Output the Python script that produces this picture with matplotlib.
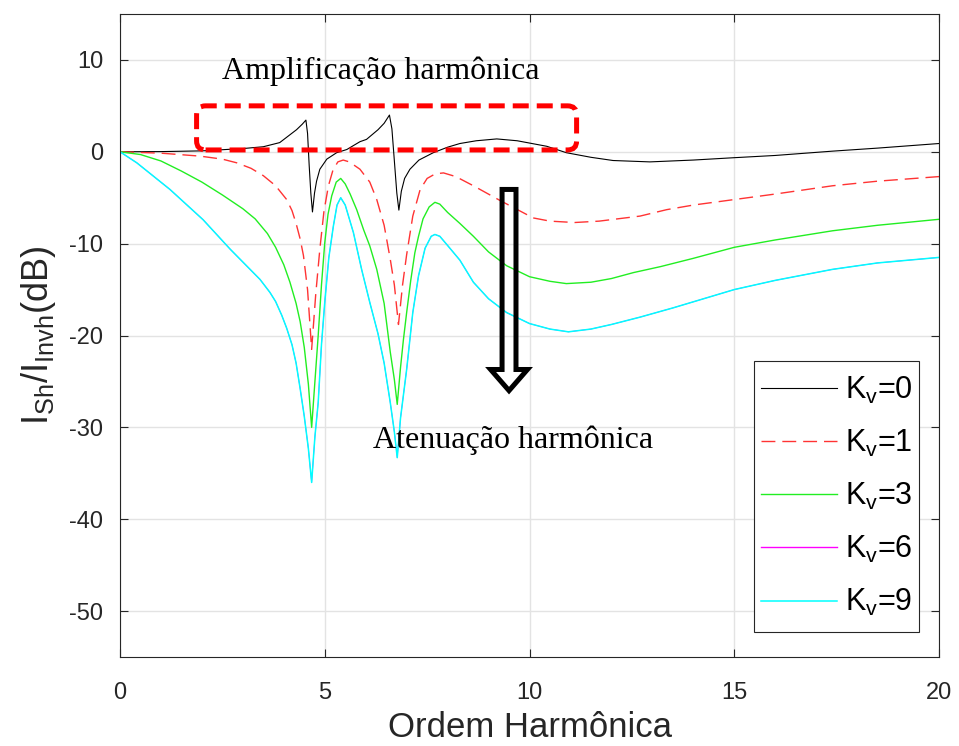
import numpy as np
import matplotlib
matplotlib.use('Agg')
import matplotlib.pyplot as plt
from matplotlib.patches import FancyBboxPatch, FancyArrow, Rectangle
from matplotlib.lines import Line2D

plt.rcParams['font.family'] = ['Liberation Sans', 'DejaVu Sans']
plt.rcParams['mathtext.fontset'] = 'custom'
plt.rcParams['mathtext.rm'] = 'Liberation Sans'
plt.rcParams['mathtext.it'] = 'Liberation Sans:italic'
plt.rcParams['axes.unicode_minus'] = False

# values (harmonic order vs. dB)
x_kv0 = [0, 1, 2, 3, 3.5, 3.9, 4.31, 4.45, 4.54, 4.58, 4.62, 4.66, 4.70, 4.75, 4.80, 4.88,
         5.05, 5.29, 5.54, 5.86, 6.02, 6.3, 6.45, 6.58, 6.64, 6.70, 6.76, 6.81, 6.87, 6.95,
         7.08, 7.3, 7.65, 8.0, 8.3, 8.7, 9.2, 9.7, 10.42, 10.9, 11.5, 12.04, 12.94, 14.0,
         14.97, 16.0, 17.4, 18.5, 20]
y_kv0 = [0, 0.02, 0.1, 0.35, 0.55, 1.0, 2.4, 3.0, 3.45, 2.0, -1.5, -4.5, -6.55, -4.5, -3.2, -1.9,
         -0.8, -0.1, 0.25, 1.1, 1.35, 2.4, 3.1, 4.0, 2.5, -1.0, -4.5, -6.35, -4.3, -2.9,
         -1.9, -0.9, -0.1, 0.5, 0.9, 1.2, 1.4, 1.2, 0.6, -0.1, -0.6, -0.95, -1.1, -0.9,
         -0.65, -0.4, 0.07, 0.4, 0.9]

x_kv1 = [0, 1, 1.95, 2.5, 2.85, 3.2, 3.5, 3.8, 4.07, 4.2, 4.3, 4.4, 4.48, 4.58, 4.68, 4.78, 4.88,
         4.98, 5.09, 5.2, 5.32, 5.45, 5.6, 5.86, 6.1, 6.27, 6.45, 6.6, 6.7, 6.8, 6.9, 7.0,
         7.15, 7.33, 7.5, 7.7, 7.9, 8.2, 8.63, 9.28, 10.09, 10.5, 11.1, 11.7, 12.7, 13.35,
         14.0, 15.0, 16.0, 17.4, 18.5, 20]
y_kv1 = [0, -0.15, -0.47, -0.8, -1.2, -1.8, -2.6, -3.7, -5.2, -6.4, -7.8, -9.5, -11.3, -15.0, -21.5, -15.5, -10.6,
         -6.5, -3.7, -2.0, -1.1, -0.9, -1.1, -1.9, -3.3, -5.2, -8.0, -11.7, -14.5, -18.8, -14.5, -11.2,
         -7.0, -4.1, -2.9, -2.4, -2.3, -2.7, -3.7, -5.3, -7.2, -7.55, -7.7, -7.55, -7.0, -6.3,
         -5.8, -5.2, -4.6, -3.7, -3.2, -2.7]

x_kv3 = [0, 0.5, 1.0, 1.5, 2.0, 2.5, 3.0, 3.3, 3.6, 3.8, 4.0, 4.15, 4.3, 4.4, 4.5, 4.6, 4.68, 4.76, 4.84,
         4.92, 5.0, 5.08, 5.17, 5.28, 5.39, 5.5, 5.62, 5.78, 5.95, 6.1, 6.27, 6.45, 6.6, 6.7,
         6.77, 6.85, 6.92, 7.0, 7.1, 7.2, 7.29, 7.4, 7.55, 7.69, 7.81, 8.0, 8.3, 8.63, 9.0,
         9.44, 10.0, 10.5, 10.9, 11.5, 12.0, 12.54, 13.2, 14.0, 15.0, 16.0, 17.4, 18.5, 20]
y_kv3 = [0, -0.3, -1.0, -2.1, -3.3, -4.7, -6.2, -7.3, -8.9, -10.4, -12.3, -14.2, -16.5, -18.5, -21.3, -25.3, -30.0, -25.0, -20.0,
         -14.5, -9.9, -6.8, -4.8, -3.3, -2.9, -3.5, -4.6, -6.3, -8.5, -10.25, -12.8, -16.5, -21.8, -24.8,
         -27.5, -23.5, -20.5, -17.5, -14.0, -11.0, -9.2, -7.3, -6.0, -5.5, -5.7, -6.6, -7.8, -9.2, -10.9,
         -12.4, -13.6, -14.1, -14.35, -14.2, -13.8, -13.15, -12.5, -11.6, -10.4, -9.6, -8.6, -8.0, -7.35]

x_kv9 = [0, 0.41, 1.22, 2.03, 2.69, 3.42, 3.66, 3.8, 3.95, 4.07, 4.2, 4.3, 4.4, 4.5, 4.6, 4.68, 4.76,
         4.84, 4.92, 5.0, 5.1, 5.21, 5.3, 5.39, 5.5, 5.7, 5.9, 6.1, 6.3, 6.45, 6.6, 6.7, 6.77,
         6.85, 7.0, 7.15, 7.29, 7.45, 7.6, 7.69, 7.81, 8.0, 8.3, 8.63, 9.0, 9.44, 10.0, 10.5,
         10.95, 11.5, 12.0, 12.7, 13.5, 15.0, 16.0, 17.4, 18.5, 20]
y_kv9 = [0, -1.2, -4.1, -7.4, -10.6, -13.9, -15.3, -16.3, -17.8, -19.2, -21.0, -23.0, -25.8, -28.8, -32.3, -36.0, -31.0,
         -27.3, -21.0, -16.4, -11.5, -8.1, -5.8, -5.0, -5.8, -8.8, -12.8, -16.4, -19.8, -23.0, -27.3, -30.5, -33.3,
         -29.0, -23.7, -17.5, -13.5, -10.5, -9.2, -9.0, -9.2, -10.2, -11.8, -14.2, -16.0, -17.5, -18.7, -19.3,
         -19.6, -19.3, -18.8, -18.0, -17.0, -15.0, -14.0, -12.8, -12.1, -11.5]

# K_v=6 lies under the K_v=9 trace in the reference
x_kv6 = list(x_kv9)
y_kv6 = list(y_kv9)

labels = ['0', '1', '3', '6', '9']
styles = [dict(color='black', lw=0.8),
          dict(color='#ff3333', lw=1.0, dashes=(10, 5)),
          dict(color='#22ee22', lw=1.0),
          dict(color='#ff00ff', lw=1.0),
          dict(color='#00ffff', lw=1.1)]
data = [(x_kv0, y_kv0), (x_kv1, y_kv1), (x_kv3, y_kv3), (x_kv6, y_kv6), (x_kv9, y_kv9)]

fig = plt.figure(figsize=(9.59, 7.46), dpi=100)
ax = fig.add_axes([120/959, 1 - 657/746, 819/959, 643/746])

handles = []
for (xs, ys), k, st in zip(data, labels, styles):
    plot_st = dict(st)
    if k == '6':
        plot_st['lw'] = 0.6  # hidden under K_v=9
    ax.plot(xs, ys, **plot_st)
    handles.append(Line2D([], [], label=r'K$_{\mathrm{v}}$=' + k, **st))

ax.set_xlim(0, 20)
ax.set_ylim(-55, 15)
ax.set_xticks([0, 5, 10, 15, 20])
ax.set_yticks([-50, -40, -30, -20, -10, 0, 10])
ax.grid(True, color='#e3e3e3', lw=1.0)
ax.set_axisbelow(True)
ax.tick_params(direction='in', length=6, width=0.8, top=True, right=True,
               labelsize=17, colors='#262626', pad=12)
ax.tick_params(axis='x', pad=18)
for sp in ax.spines.values():
    sp.set_color('#262626')
    sp.set_linewidth(0.8)

ax.set_xlabel('Ordem Harmônica', fontsize=25, color='#262626', labelpad=5)
ax.set_ylabel(r'I$_{\mathrm{Sh}}$/I$_{\mathrm{Invh}}$(dB)', fontsize=26, color='#262626', labelpad=8)

# annotations
box = FancyBboxPatch((1.87, 0.2), 11.15 - 1.87, 4.8,
                     boxstyle='round,pad=0,rounding_size=0.22', mutation_aspect=4.45,
                     fill=False, ec='red', lw=3.6, ls=(0, (3.2, 1.6)), zorder=5)
ax.add_patch(box)
ax.text(2.48, 7.9, 'Amplificação harmônica', family='Liberation Serif', fontsize=23,
        ha='left', va='baseline')
ax.text(6.19, -32.2, 'Atenuação harmônica', family='Liberation Serif', fontsize=23,
        ha='left', va='baseline')
arr = FancyArrow(9.50, -4.1, 0, -21.9, width=0.34, head_width=0.9, head_length=2.3,
                 length_includes_head=True, fc='none', ec='black', lw=3.6, zorder=6)
ax.add_patch(arr)

# legend: frame drawn separately so the padding matches the reference
lx0, lx1, ly0, ly1 = 0.774, 0.976, 0.039, 0.46
ax.add_patch(Rectangle((lx0, ly0), lx1 - lx0, ly1 - ly0, transform=ax.transAxes,
                       fc='white', ec='#262626', lw=0.8, zorder=7))
leg = ax.legend(handles=handles, loc='center', bbox_to_anchor=((lx0 + lx1) / 2, (ly0 + ly1) / 2),
                fontsize=22, handlelength=2.5, labelspacing=0.72, frameon=False,
                handletextpad=0.25, borderpad=0.3)
leg.set_zorder(8)

fig.savefig('out.png', dpi=100)
